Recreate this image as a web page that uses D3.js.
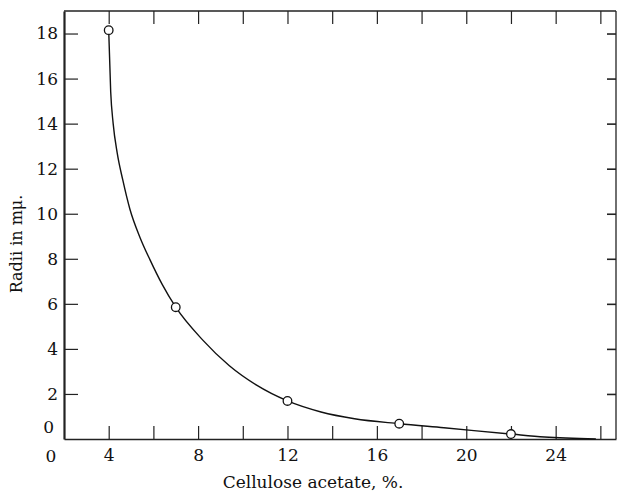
<!DOCTYPE html>
<html>
<head>
<meta charset="utf-8">
<script src="https://cdn.jsdelivr.net/npm/d3@7"></script>
<style>
  body { margin: 0; background: #fff; }
  svg text { font-family: "DejaVu Serif", serif; fill: #111; }
</style>
</head>
<body>
<div id="chart"></div>
<script>
// measured points (open circles)
var pointX = [4, 7, 12, 17, 22];
var pointY = [18.15, 5.85, 1.69, 0.68, 0.22];

// smooth curve
var curveX = [4, 4.09, 4.2, 4.38, 4.63, 4.95, 5.4, 5.85, 6.4, 7, 8.2, 9.4, 10.6, 12, 13.5, 15, 17, 19, 22, 23.5, 25.8];
var curveY = [18.15, 15.4, 14.0, 12.7, 11.5, 10.2, 8.95, 7.95, 6.85, 5.85, 4.4, 3.25, 2.4, 1.69, 1.2, 0.9, 0.68, 0.5, 0.22, 0.09, 0];

// ticks
var xTickValues = [4, 6, 8, 10, 12, 14, 16, 18, 20, 22, 24, 26];
var xLabelValues = [4, 8, 12, 16, 20, 24];
var yTickValues = [2, 4, 6, 8, 10, 12, 14, 16, 18];
var yLabelValues = [0, 2, 4, 6, 8, 10, 12, 14, 16, 18];

var xLabel = "Cellulose acetate, %.";
var yLabel = "Radii in m\u03bc.";

var width = 617, height = 494;
// plot box edges (pixels)
var mLeft = 64, mRight = 616, mTop = 11, mBottom = 439;
var fs = 17;

var svg = d3.select('#chart').append('svg').attr('width', width).attr('height', height);

var x = d3.scaleLinear().domain([2, 26.7]).range([mLeft, mRight]);
var y = d3.scaleLinear().domain([0, 19]).range([mBottom, mTop]);

// frame
svg.append('line').attr('x1', mLeft).attr('x2', mRight).attr('y1', mTop).attr('y2', mTop).attr('stroke', '#222').attr('stroke-width', 1.3);
svg.append('line').attr('x1', mRight).attr('x2', mRight).attr('y1', mTop).attr('y2', mBottom).attr('stroke', '#222').attr('stroke-width', 1.3);

// bottom axis: inward ticks, labels only on some
var xAxis = d3.axisBottom(x).tickValues(xTickValues).tickSizeInner(-13).tickSizeOuter(0).tickPadding(10)
  .tickFormat(function(d) { return xLabelValues.indexOf(d) >= 0 ? d : ""; });
var gx = svg.append('g').attr('transform', 'translate(0,' + mBottom + ')').call(xAxis);
gx.select('.domain').attr('stroke', '#222').attr('stroke-width', 1.6);
gx.selectAll('.tick line').attr('stroke', '#222').attr('stroke-width', 1.2);
gx.selectAll('.tick text').attr('font-size', fs).attr('fill', '#111').attr('font-family', '"DejaVu Serif", serif');
// corner "0" under the origin
svg.append('text').attr('x', x(2) - 13).attr('y', mBottom + 23).attr('text-anchor', 'middle').attr('font-size', fs).text('0');

// top ticks
var xTop = d3.axisTop(x).tickValues(xTickValues).tickSizeInner(-13).tickSizeOuter(0).tickFormat("");
var gt = svg.append('g').attr('transform', 'translate(0,' + mTop + ')').call(xTop);
gt.select('.domain').remove();
gt.selectAll('.tick line').attr('stroke', '#222').attr('stroke-width', 1.2);

// left axis
var yAxis = d3.axisLeft(y).tickValues(yLabelValues).tickSizeInner(-14).tickSizeOuter(0).tickPadding(6);
var gy = svg.append('g').attr('transform', 'translate(' + mLeft + ',0)').call(yAxis);
gy.select('.domain').attr('stroke', '#222').attr('stroke-width', 2.2);
gy.selectAll('.tick line').attr('stroke', '#222').attr('stroke-width', 1.2);
gy.selectAll('.tick text').attr('font-size', fs).attr('fill', '#111').attr('font-family', '"DejaVu Serif", serif');
gy.selectAll('.tick').filter(function(d) { return d === 0; }).select('line').remove();
gy.selectAll('.tick').filter(function(d) { return d === 0; }).select('text').attr('dy', '-0.4em').attr('x', -10);

// right ticks
var yRight = d3.axisRight(y).tickValues(yTickValues).tickSizeInner(-9).tickSizeOuter(0).tickFormat("");
var gr = svg.append('g').attr('transform', 'translate(' + mRight + ',0)').call(yRight);
gr.select('.domain').remove();
gr.selectAll('.tick line').attr('stroke', '#222').attr('stroke-width', 1.6);

// curve
var curveData = curveX.map(function(d, i) { return [d, curveY[i]]; });
var line = d3.line().x(function(d) { return x(d[0]); }).y(function(d) { return y(d[1]); }).curve(d3.curveMonotoneX);
svg.append('path').datum(curveData).attr('d', line).attr('fill', 'none').attr('stroke', '#111').attr('stroke-width', 1.4);

// points
svg.selectAll('circle.pt').data(pointX).enter().append('circle').attr('class', 'pt')
  .attr('cx', function(d) { return x(d); })
  .attr('cy', function(d, i) { return y(pointY[i]); })
  .attr('r', 4.3).attr('fill', '#fff').attr('stroke', '#111').attr('stroke-width', 1.3);

// axis titles
svg.append('text').attr('x', 313).attr('y', 488).attr('text-anchor', 'middle').attr('font-size', fs).text(xLabel);
svg.append('text').attr('transform', 'translate(22,244) rotate(-90)').attr('text-anchor', 'middle').attr('font-size', 16).text(yLabel);
</script>
</body>
</html>
